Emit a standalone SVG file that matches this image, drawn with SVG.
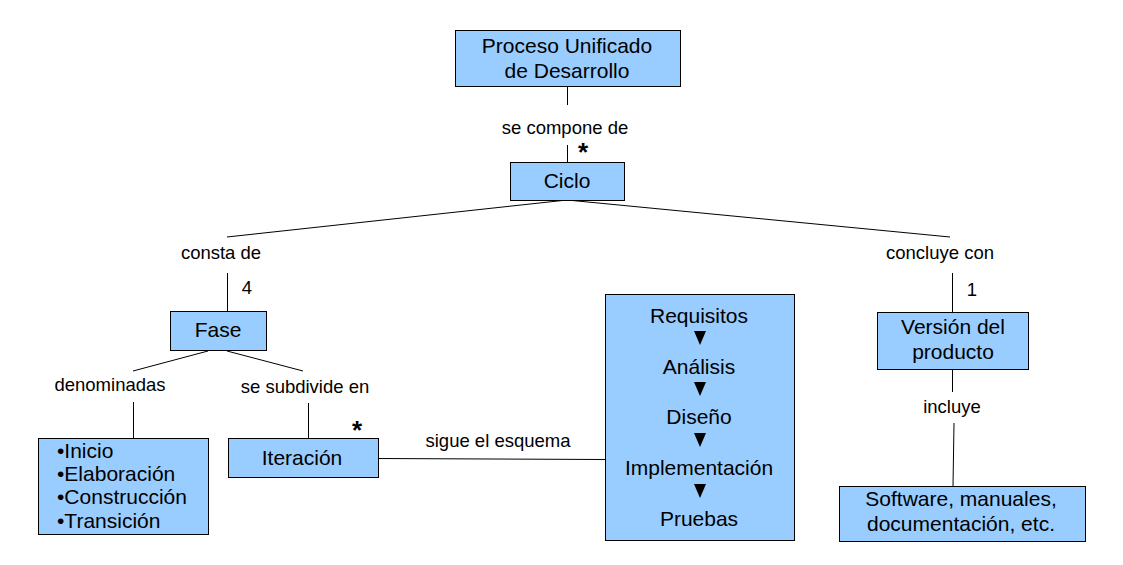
<svg xmlns="http://www.w3.org/2000/svg" width="1123" height="565" viewBox="0 0 1123 565">
<style>
.box{fill:#99ccff;stroke:#000;stroke-width:1}
.t{font-family:"Liberation Sans",Arial,sans-serif;font-size:21px;fill:#000;text-anchor:middle}
.tl{font-family:"Liberation Sans",Arial,sans-serif;font-size:21px;fill:#000}
.l{font-family:"Liberation Sans",Arial,sans-serif;font-size:18.5px;fill:#000;text-anchor:middle}
.star{font-family:"Liberation Sans",Arial,sans-serif;font-size:26px;font-weight:bold;fill:#000;text-anchor:middle}
.c{stroke:#000;stroke-width:1;fill:none}
</style>
<rect width="1123" height="565" fill="#fff"/>
<g id="connectors">
<line class="c" x1="567.5" y1="86" x2="567.5" y2="105"/>
<line class="c" x1="567.5" y1="145" x2="567.5" y2="162"/>
<line class="c" x1="567" y1="200" x2="227" y2="237"/>
<line class="c" x1="567" y1="200" x2="950" y2="237"/>
<line class="c" x1="227.5" y1="273" x2="227.5" y2="311"/>
<line class="c" x1="208" y1="351" x2="133" y2="371"/>
<line class="c" x1="227" y1="351" x2="303" y2="371"/>
<line class="c" x1="133.5" y1="402" x2="133.5" y2="438"/>
<line class="c" x1="308.5" y1="403" x2="308.5" y2="438"/>
<line class="c" x1="378" y1="458.5" x2="605" y2="459.5"/>
<line class="c" x1="952.5" y1="273" x2="952.5" y2="312"/>
<line class="c" x1="952.5" y1="369" x2="952.5" y2="392"/>
<line class="c" x1="954" y1="423" x2="953" y2="486"/>
</g>
<g id="labels">
<text class="l" x="565" y="134">se compone de</text>
<text class="star" x="583" y="161">*</text>
<text class="l" x="221" y="259">consta de</text>
<text class="l" x="247" y="294">4</text>
<text class="l" x="110" y="391">denominadas</text>
<text class="l" x="305" y="393">se subdivide en</text>
<text class="star" x="357" y="439">*</text>
<text class="l" x="498" y="447">sigue el esquema</text>
<text class="l" x="940" y="259">concluye con</text>
<text class="l" x="972" y="296">1</text>
<text class="l" x="952" y="413">incluye</text>
</g>
<g id="proceso">
<rect class="box" x="455.5" y="30.5" width="225" height="56"/>
<text class="t" x="567" y="53">Proceso Unificado</text>
<text class="t" x="567" y="78">de Desarrollo</text>
</g>
<g id="ciclo">
<rect class="box" x="510.5" y="162.5" width="114" height="38"/>
<text class="t" x="567" y="188">Ciclo</text>
</g>
<g id="fase">
<rect class="box" x="170.5" y="311.5" width="96" height="39"/>
<text class="t" x="218" y="337">Fase</text>
</g>
<g id="fases-lista">
<rect class="box" x="38.5" y="438.5" width="170" height="96"/>
<text class="tl" x="57" y="458">•Inicio</text>
<text class="tl" x="57" y="481">•Elaboración</text>
<text class="tl" x="57" y="504">•Construcción</text>
<text class="tl" x="57" y="528">•Transición</text>
</g>
<g id="iteracion">
<rect class="box" x="228.5" y="438.5" width="150" height="39"/>
<text class="t" x="302" y="465">Iteración</text>
</g>
<g id="esquema">
<rect class="box" x="605.5" y="294.5" width="189" height="246"/>
<text class="t" x="699" y="323">Requisitos</text>
<polygon points="694,331 706,331 700,345" fill="#000"/>
<text class="t" x="699" y="374">Análisis</text>
<polygon points="694,382 706,382 700,396" fill="#000"/>
<text class="t" x="699" y="424">Diseño</text>
<polygon points="694,433 706,433 700,447" fill="#000"/>
<text class="t" x="699" y="475">Implementación</text>
<polygon points="694,484 706,484 700,498" fill="#000"/>
<text class="t" x="699" y="526">Pruebas</text>
</g>
<g id="version">
<rect class="box" x="877.5" y="312.5" width="151" height="57"/>
<text class="t" x="953" y="334">Versión del</text>
<text class="t" x="953" y="359">producto</text>
</g>
<g id="software">
<rect class="box" x="839.5" y="486.5" width="246" height="55"/>
<text class="t" x="961" y="506">Software, manuales,</text>
<text class="t" x="961" y="531">documentación, etc.</text>
</g>
</svg>
